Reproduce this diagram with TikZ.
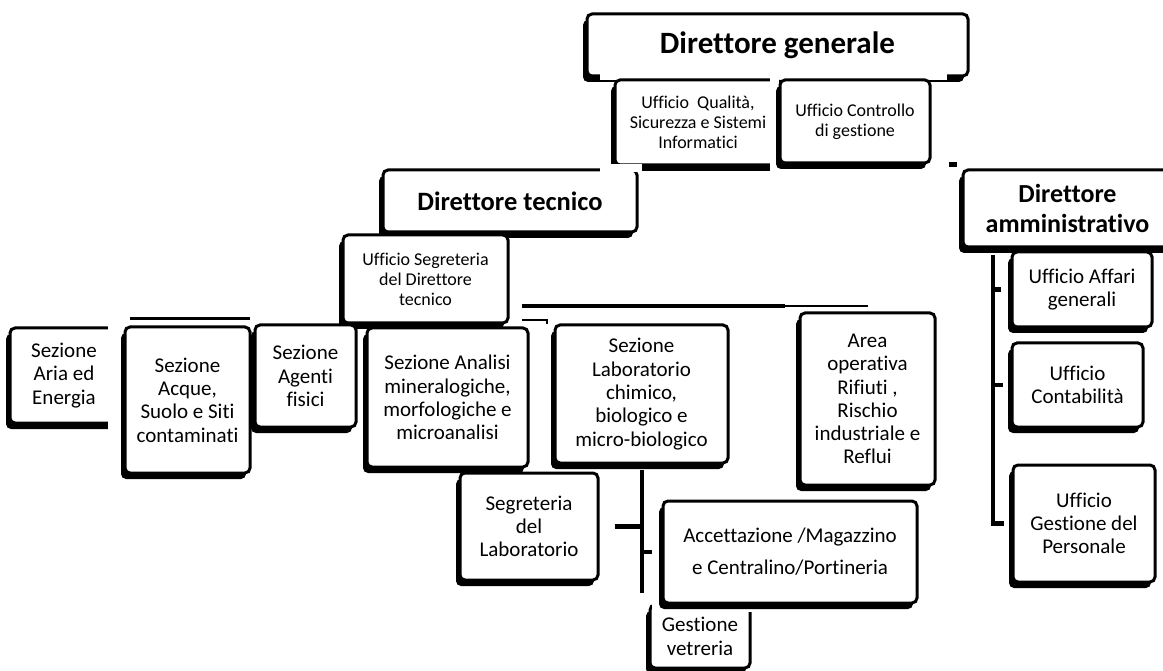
\documentclass[tikz,border=0pt]{standalone}
\usepackage{fontspec}
\setmainfont[Ligatures=NoCommon]{Carlito}
\usetikzlibrary{shadows}

\tikzset{
  casella/.style={draw, line width=3pt, rounded corners=5pt, fill=white,
    align=center, inner sep=0pt,
    drop shadow={shadow xshift=-4pt, shadow yshift=-6pt, fill=black, opacity=1},
    font=\fontsize{21}{23.3}\selectfont},
  piccola/.style={font=\fontsize{18}{20}\selectfont},
  linea/.style={line width=4.5pt},
  lineasottile/.style={line width=2.5pt},
  maschera/.style={fill=white}
}

\begin{document}
\begin{tikzpicture}[x=1pt,y=-1pt]
            \useasboundingbox (0,0) rectangle (1163,671);
            \fill[white] (0,0) rectangle (1163,671);

            % Disegna la casella del "Direttore generale"
            \node[casella, font=\bfseries\fontsize{31}{34}\selectfont, minimum width=381pt, minimum height=62pt] (dg) at (777.5,45) {Direttore generale};
            \fill[maschera] (600,71) rectangle (947,80);

            % Uffici sotto il Direttore generale
            \node[casella, piccola, minimum width=166pt, minimum height=85pt] (uq) at (698,122.5) {Ufficio\ \ Qualità,\\Sicurezza e Sistemi\\Informatici};
            \fill[maschera] (770,76) rectangle (779,173);
            \node[casella, piccola, minimum width=150pt, minimum height=83pt] (uc) at (855,121.5) {Ufficio Controllo\\di gestione};
            \draw[linea] ([xshift=17pt]uc.south east) -- ++(8,0);

            % Disegna la casella del "Direttore tecnico"
            \node[casella, font=\bfseries\fontsize{26.5}{30}\selectfont, minimum width=254pt, minimum height=62pt] (dt) at (510,201) {Direttore tecnico};
            \fill[maschera] (600,164) rectangle (642,172);

            % Disegna la casella del "Direttore amministrativo"
            \node[casella, font=\bfseries\fontsize{26}{30}\selectfont, minimum width=209pt, minimum height=77pt] (da) at (1067.5,208.5) {Direttore\\amministrativo};

            % Segreteria del Direttore tecnico
            \node[casella, piccola, minimum width=165pt, minimum height=88pt] (sdt) at (425.5,279) {Ufficio Segreteria\\del Direttore\\tecnico};

            % Linee sotto la segreteria
            \coordinate (lineaA) at (522,306);
            \coordinate (lineaB) at (785,306);
            \coordinate (lineaC) at (868,306);
            \draw[linea] (lineaA) -- (lineaB);
            \draw[lineasottile] (lineaB) -- (lineaC);
            \coordinate (tratto) at (522,320);
            \draw[lineasottile] (tratto) -- ++(25,0) -- ++(0,4);

            % Sezioni
            \node[casella, minimum width=108pt, minimum height=95pt] (saria) at (64,375.5) {Sezione\\Aria ed\\Energia};
            \fill[maschera] (108,318) rectangle (123,432);
            \node[casella, minimum width=125pt, minimum height=146pt] (sacque) at (187.5,400) {Sezione\\Acque,\\Suolo e Siti\\contaminati};
            \draw[lineasottile] ([shift={(6pt,7pt)}]sacque.north west) -- ([shift={(-2pt,7pt)}]sacque.north east);
            \node[casella, minimum width=101pt, minimum height=102pt] (sagenti) at (305.5,376) {Sezione\\Agenti\\fisici};
            \node[casella, minimum width=161pt, minimum height=139pt] (sanalisi) at (447.5,397.5) {Sezione Analisi\\mineralogiche,\\morfologiche e\\microanalisi};
            \node[casella, minimum width=173pt, minimum height=138pt] (slab) at (641.5,394) {Sezione\\Laboratorio\\chimico,\\biologico e\\micro-biologico};
            \node[casella, minimum width=135pt, minimum height=172pt] (area) at (867.5,399) {Area\\operativa\\Rifiuti ,\\Rischio\\industriale e\\Reflui};

            % Uffici amministrativi
            \node[casella, minimum width=140pt, minimum height=75pt] (uaff) at (1082,289.5) {Ufficio Affari\\generali};
            \node[casella, minimum width=131pt, minimum height=84pt] (ucont) at (1077.5,385) {Ufficio\\Contabilità};
            \node[casella, minimum width=142pt, minimum height=117pt] (upers) at (1084,523.5) {Ufficio\\Gestione del\\Personale};
            \coordinate (ammcima) at (993,255);
            \draw[linea] (ammcima) |- ([xshift=-8pt]upers.west);
            \draw[linea] (ammcima |- uaff.west) -- ++(8,0);
            \draw[linea] (ammcima |- ucont.west) -- ++(10,0);

            % Uffici del laboratorio
            \node[casella, minimum width=138pt, minimum height=107pt] (seglab) at (529,526.5) {Segreteria\\del\\Laboratorio};
            \node[casella, minimum width=100pt, minimum height=63pt] (vetr) at (700,636.5) {Gestione\\vetreria};
            \fill[maschera] (652,598) rectangle (753,612);
            \node[casella, font=\fontsize{21}{32}\selectfont, minimum width=254pt, minimum height=102pt] (acc) at (790,552) {Accettazione /Magazzino\\e Centralino/Portineria};
            \coordinate (labcima) at (642,470);
            \coordinate (labfondo) at (642,593);
            \draw[linea] (labcima) -- (labfondo);
            \draw[linea] ([xshift=15pt]seglab.east) -- (seglab.east -| labcima);
            \draw[linea] (acc.west -| labcima) -- ([xshift=-10pt]acc.west);
\end{tikzpicture}
\end{document}
